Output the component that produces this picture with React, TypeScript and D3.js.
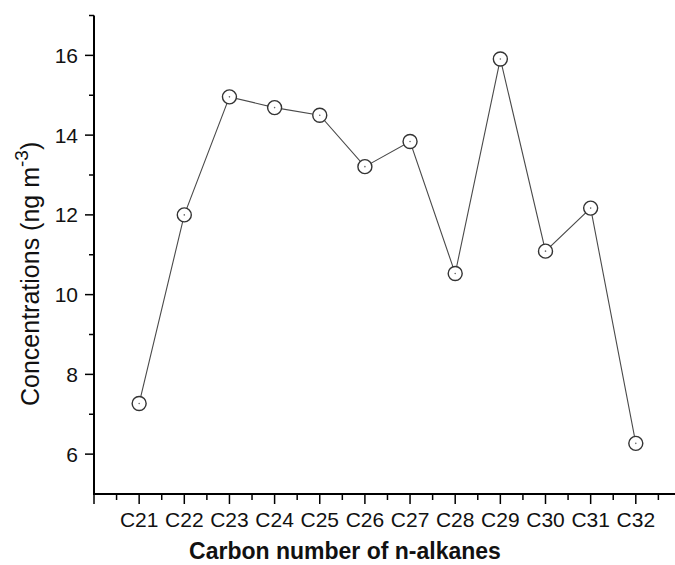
import React from 'react';
import * as d3 from 'd3';

// chart values
const categories = ['C21', 'C22', 'C23', 'C24', 'C25', 'C26', 'C27', 'C28', 'C29', 'C30', 'C31', 'C32'];
const concentrations = [7.27, 12.0, 14.96, 14.69, 14.5, 13.21, 13.84, 10.53, 15.91, 11.09, 12.17, 6.27];
const yMajorTicks = [6, 8, 10, 12, 14, 16];
const yMinorTicks = [7, 9, 11, 13, 15, 17];

const width = 675;
const height = 565;
const font = 'Arial, "Liberation Sans", sans-serif';

export default function App() {
  // carbon numbers 21..32 go on a linear axis, 20 sits on the origin
  const carbon = categories.map(c => +c.slice(1));
  const x = d3.scaleLinear().domain([20, 33]).range([94, 94 + 13 * 45.15]);
  const y = d3.scaleLinear().domain([5, 17]).range([494, 15.5]);

  const xMajor = [20, ...carbon];
  const xMinor = d3.range(20.5, 33, 1);

  const line = d3.line<number>()
    .x((d, i) => x(carbon[i]))
    .y(d => y(d));

  return (
    <svg width={width} height={height} style={{ position: 'absolute', left: 0, top: 0, background: '#fff' }}>
      {/* data line */}
      <path d={line(concentrations) || ''} fill="none" stroke="#4a4a4a" strokeWidth={1.1} />
      {concentrations.map((v, i) => (
        <g key={categories[i]}>
          <circle cx={x(carbon[i])} cy={y(v)} r={7} fill="#fff" stroke="#333" strokeWidth={1.4} />
          <circle cx={x(carbon[i])} cy={y(v)} r={0.8} fill="#666" />
        </g>
      ))}

      {/* y axis */}
      <line x1={94} x2={94} y1={y(17)} y2={y(5)} stroke="#000" strokeWidth={2} />
      {yMajorTicks.map(t => (
        <g key={'ym' + t}>
          <line x1={85} x2={94} y1={y(t)} y2={y(t)} stroke="#000" strokeWidth={1.5} />
          <text x={78} y={y(t)} dy="0.36em" textAnchor="end" fontFamily={font} fontSize={21} fill="#111">{t}</text>
        </g>
      ))}
      {yMinorTicks.map(t => (
        <line key={'yn' + t} x1={89} x2={94} y1={y(t)} y2={y(t)} stroke="#000" strokeWidth={1.5} />
      ))}

      {/* x axis */}
      <line x1={93} x2={width} y1={494} y2={494} stroke="#000" strokeWidth={2} />
      {xMajor.map(t => (
        <line key={'xm' + t} x1={x(t)} x2={x(t)} y1={494} y2={504} stroke="#000" strokeWidth={1.5} />
      ))}
      {xMinor.map(t => (
        <line key={'xn' + t} x1={x(t)} x2={x(t)} y1={494} y2={500} stroke="#000" strokeWidth={1.5} />
      ))}
      {categories.map((c, i) => (
        <text key={'xl' + c} x={x(carbon[i])} y={527} textAnchor="middle" fontFamily={font} fontSize={21} fill="#111">{c}</text>
      ))}

      {/* axis titles */}
      <text x={345} y={559} textAnchor="middle" fontFamily={font} fontSize={23} fontWeight="bold" fill="#111">
        Carbon number of n-alkanes
      </text>
      <text transform="translate(39,406) rotate(-90)" fontFamily={font} fontSize={25} fill="#111">
        Concentrations (ng m<tspan dy={-11} fontSize={19}>-3</tspan><tspan dy={11}>)</tspan>
      </text>
    </svg>
  );
}
